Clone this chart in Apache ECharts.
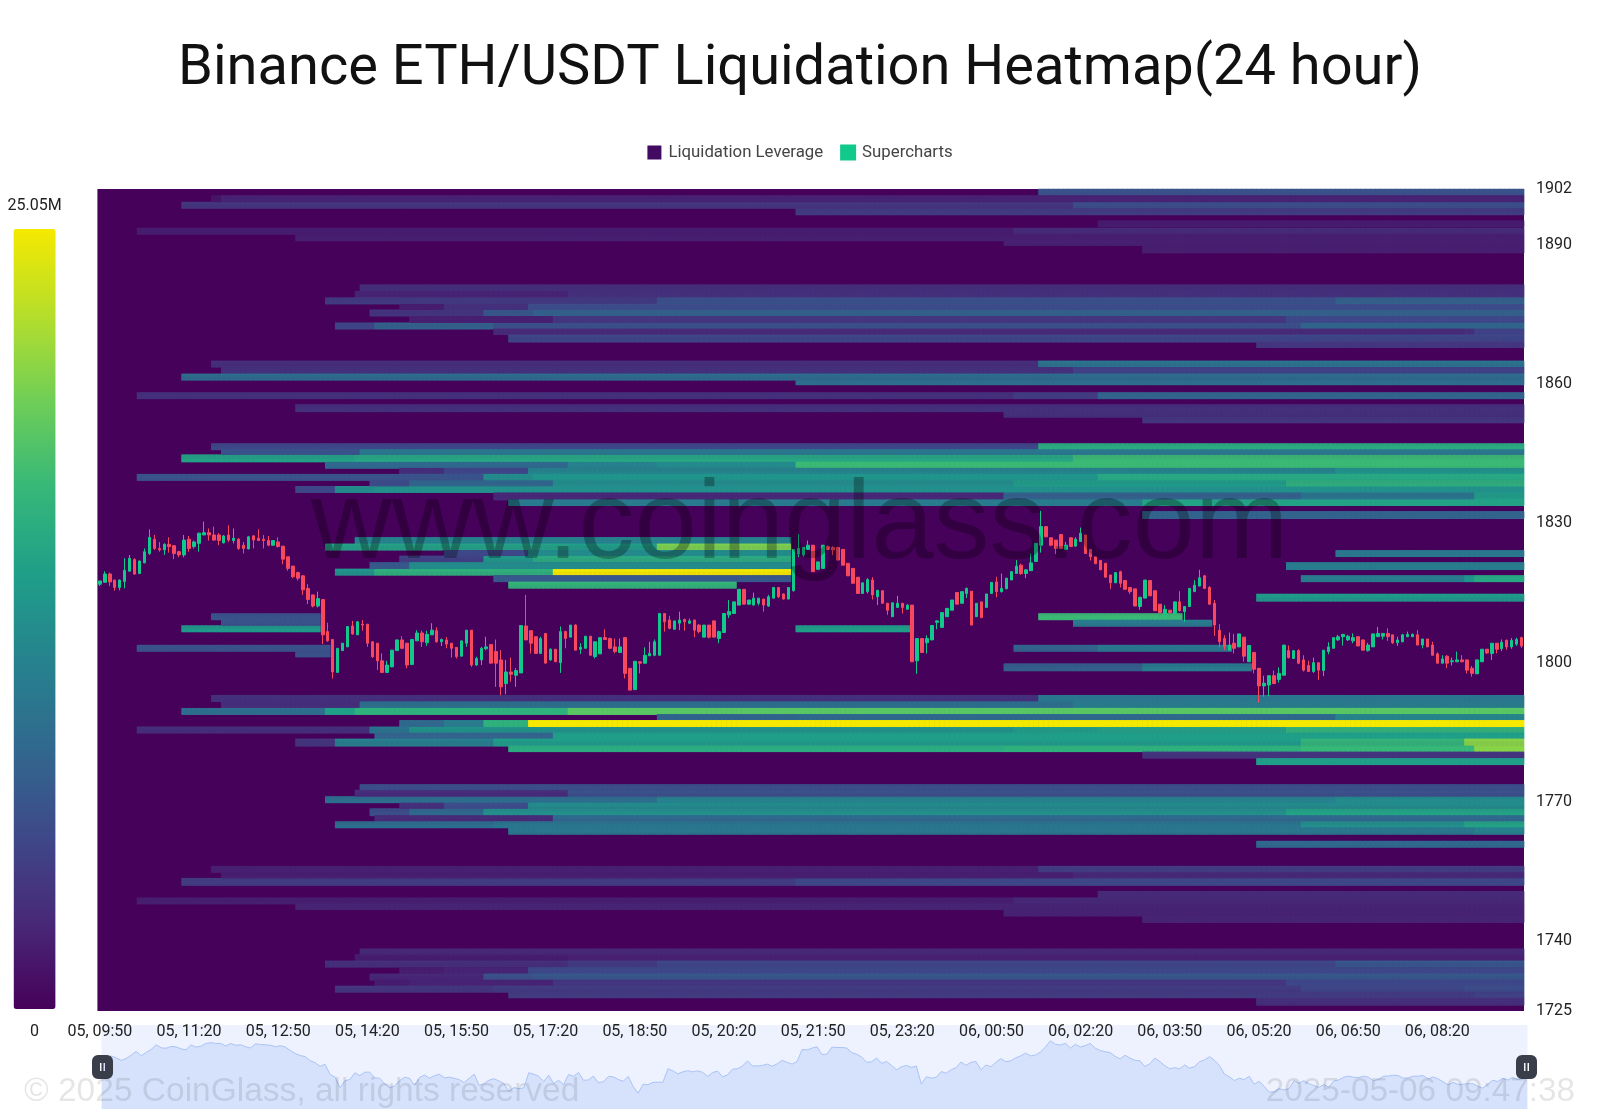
<!DOCTYPE html>
<html><head><meta charset="utf-8">
<script src="https://cdn.jsdelivr.net/npm/echarts@6/dist/echarts.min.js"></script>
<style>html,body{margin:0;padding:0;background:#fff}#c{width:1600px;height:1118px}</style></head>
<body><div id="c"></div>
<script>
const titleText = 'Binance ETH/USDT Liquidation Heatmap(24 hour)';
const legendNames = ['Liquidation Leverage', 'Supercharts'];
const priceTicks = [1725, 1740, 1770, 1800, 1830, 1860, 1890, 1902];
const priceMin = 1725, priceMax = 1902, maxLeverageM = 25.05;
const startHour = 9, startMinute = 50, barMinutes = 5, barCount = 288;

// [open, close, low, high] for each 5-minute bar
const ohlc = [
[1816.9,1817.6,1816.5,1817.6],[1817.3,1819.1,1817.3,1819.7],[1819.1,1817.4,1816.5,1819.4],[1817.8,1816.2,1815.5,1817.8],[1816.2,1817.8,1815.6,1817.9],
[1817.5,1819.9,1816,1822.5],[1819.7,1822.5,1819.7,1823.2],[1822.2,1819.1,1818.9,1822.5],[1819.2,1821.9,1819.2,1822],[1821.5,1823.9,1821.4,1824.6],
[1823.5,1827,1823.2,1828.7],[1826.6,1824.6,1824.3,1827.5],[1824.6,1824.3,1823.9,1826],[1824.3,1825.5,1823.2,1825.7],[1825.5,1825,1823.7,1827],
[1825.2,1823.5,1822.3,1825.3],[1823.9,1823.2,1822.7,1824.1],[1823.2,1826.4,1822.7,1827.5],[1826.6,1824.6,1823.9,1827.3],[1825,1826,1824.6,1826.3],
[1825.7,1827.9,1823.9,1828],[1827.5,1828,1827.5,1830.4],[1828,1827.5,1826.3,1828.9],[1827.5,1826.4,1826.3,1829.3],[1827.5,1826.3,1825.3,1827.9],
[1825.8,1827.3,1825.7,1827.5],[1827.5,1826.4,1826,1829.6],[1826.3,1826.8,1825.7,1828.9],[1826.6,1824.6,1824.3,1826.8],[1825.3,1824.6,1823.5,1826],
[1824.5,1827.1,1824.4,1827.3],[1827.3,1826.4,1824.6,1827.5],[1826.8,1826.3,1826.3,1828.7],[1826.6,1826.3,1824.6,1827.5],[1826.3,1825.3,1825.1,1827.3],
[1825.3,1826.3,1825.2,1826.4],[1826,1825,1824.8,1827],[1825.1,1822.3,1821.2,1825.1],[1822.8,1820.3,1819.8,1822.8],[1820.8,1818.5,1818.2,1820.8],
[1819.4,1818.2,1817.7,1819.6],[1818.7,1815.7,1814.6,1818.9],[1816,1813.6,1812.6,1816.9],[1814.6,1812.2,1811.9,1814.6],[1812.2,1813.8,1811.9,1815.3],
[1813.6,1806,1804,1813.6],[1806.7,1804.7,1804.5,1808.6],[1805,1798,1796.6,1805],[1797.9,1803.1,1797.9,1803.1],[1802.6,1804.2,1802.6,1804.2],
[1803.4,1807.8,1803.4,1807.8],[1807.9,1806.2,1806,1809],[1806,1808.8,1806,1809],[1808.3,1808.1,1806.9,1809.2],[1808.3,1804.2,1803.4,1808.3],
[1804.5,1801.3,1801,1804.6],[1804.2,1800.4,1798.4,1804.2],[1800.4,1797.9,1797.9,1802],[1797.9,1799.5,1797.9,1800.4],[1799.1,1802.7,1799.1,1802.7],
[1802.6,1804.9,1802.6,1805],[1804.9,1803.1,1802.9,1805.7],[1804.2,1799.5,1798.8,1804.2],[1799.6,1805,1799.6,1805],[1804.7,1806.4,1804.7,1807],
[1806.4,1804.5,1803.4,1806.9],[1804.3,1806.1,1803.6,1806.9],[1806,1807,1806,1808.5],[1806.9,1804.5,1804.3,1807.6],[1804.5,1805,1803.6,1805.2],
[1804.9,1804,1803.1,1805.5],[1804.2,1803.1,1801.1,1804.2],[1803.3,1801.3,1800.9,1803.3],[1801.4,1804.7,1801.4,1804.7],[1804.2,1807,1803.4,1807],
[1807,1799.5,1799.1,1807],[1799.5,1800.9,1799.3,1801.3],[1800.6,1803.1,1799.5,1803.4],[1803,1803.4,1802.7,1805.6],[1803.9,1799.9,1799.9,1803.9],
[1802.4,1799.9,1794.8,1805],[1800.6,1794.8,1793,1802.7],[1795.5,1798,1793.2,1800.6],[1798,1797.5,1795.9,1801.1],[1797.3,1798.3,1794.8,1798.8],
[1797.8,1808,1797.8,1808],[1807.9,1804.9,1804.9,1814.6],[1806.9,1804.2,1802,1806.9],[1805.6,1802,1801.9,1805.6],[1802,1805.2,1801.9,1805.6],
[1806.3,1799.9,1799.9,1806.3],[1800.6,1802.9,1800.4,1803.1],[1802.9,1800.2,1800.2,1802.9],[1800,1806.7,1797.8,1807.8],[1806.7,1805.2,1803.1,1806.9],
[1805.5,1808.1,1805.5,1808.1],[1808.1,1802.7,1802.7,1808.3],[1802.9,1803.3,1801.9,1804.2],[1803.1,1805.7,1803.1,1805.7],[1805.7,1801.6,1801.6,1805.7],
[1801.3,1804.5,1800.9,1804.5],[1801.9,1805.4,1801.9,1805.4],[1805.4,1805,1804.9,1807.2],[1805.2,1803.1,1802.9,1805.4],[1803.4,1802.4,1802,1805.2],
[1802.2,1803.4,1802.2,1805.2],[1805.4,1797.7,1796.6,1805.4],[1798.8,1794.1,1794.1,1798.8],[1794.2,1800.3,1794.2,1800.3],[1800.2,1799.9,1797.7,1800.2],
[1799.9,1801.6,1799.7,1803.3],[1801.5,1802,1801.4,1804.5],[1801.6,1804.5,1801.4,1805],[1801.6,1810.6,1801.6,1810.6],[1810.6,1808.8,1806.7,1810.6],
[1809.2,1807.4,1807.2,1810.1],[1807.2,1809,1807.2,1809],[1808.5,1809.2,1807,1811],[1809.3,1808.8,1806.9,1809.5],[1808.5,1809,1808.3,1809.5],
[1809.2,1807,1805.5,1809.2],[1808.1,1806.7,1806.3,1808.3],[1805.5,1808.1,1805.5,1808.1],[1808.1,1805.5,1805.2,1808.1],[1809,1805.5,1805.5,1809],
[1805.2,1806.7,1804.2,1806.9],[1806.5,1810.6,1806.5,1810.6],[1810.3,1811,1809.6,1813.5],[1810.6,1813.1,1810.6,1813.1],[1812.4,1815.8,1812.4,1815.8],
[1815.8,1812.6,1812.6,1815.8],[1812.6,1813.5,1812.4,1813.5],[1812.4,1813.9,1812.4,1815.1],[1812.8,1813.9,1812.3,1813.9],[1813.7,1812.4,1811,1813.7],
[1812.2,1814.2,1812,1814.6],[1813.9,1816.2,1813.9,1816.2],[1816.2,1814.2,1813.9,1816.2],[1814.8,1813.7,1813.6,1814.9],[1813.7,1816.2,1813.7,1816.2],
[1815.5,1824.4,1815.3,1824.4],[1823.4,1824.6,1822.7,1827.7],[1823.2,1824.8,1822.8,1824.8],[1824.4,1825.3,1824.3,1826.3],[1825.3,1819.6,1819.6,1825.3],
[1820.1,1821.7,1820.1,1821.7],[1820.3,1825.3,1820.3,1825.3],[1825,1824.4,1824.3,1825.3],[1824.8,1824.3,1823.2,1825.1],[1824.8,1822.1,1822,1825],
[1824.4,1821,1821,1824.4],[1821.4,1818.7,1818.7,1821.4],[1820.3,1817.1,1817.1,1820.3],[1818.4,1814.9,1814.9,1818.4],[1814.9,1817.2,1814.9,1817.2],
[1815.3,1817.9,1814.9,1818.2],[1817.8,1814.6,1813.6,1818.4],[1814.2,1815.6,1812.4,1815.6],[1815.5,1812.8,1812.8,1815.5],[1812.8,1811.3,1810.3,1812.8],
[1809.9,1812.9,1809.9,1812.9],[1811.9,1812.8,1811.9,1814.4],[1812.8,1811.9,1810.6,1812.8],[1811.5,1812.4,1811.5,1812.6],[1812.4,1800.2,1800.2,1812.4],
[1800.4,1805.2,1797.6,1805.2],[1805.2,1802.2,1802.2,1805.2],[1804.3,1805.2,1802,1805.9],[1804.9,1808,1804.9,1808],[1808.7,1809,1807.2,1809.2],
[1807.6,1810.8,1807.6,1810.8],[1809.9,1811.7,1809.9,1811.7],[1811.3,1813.5,1811.3,1813.5],[1815.1,1812.6,1812.6,1815.1],[1812.8,1815.3,1812.8,1815.3],
[1814.9,1816,1813.9,1816.2],[1815.4,1808.1,1808.1,1815.4],[1809.9,1812.8,1809.9,1812.8],[1813.1,1809.7,1809.7,1813.1],[1811.9,1814.8,1811.9,1814.8],
[1814.9,1817.3,1814.9,1817.3],[1817.4,1815.3,1814.1,1818.5],[1815.3,1816,1815.1,1819.2],[1815.9,1818.2,1815.9,1818.2],[1817.8,1819.6,1817.8,1819.6],
[1819.2,1820.8,1819.2,1822.1],[1821,1819.2,1818.9,1821.3],[1819.2,1820,1818.2,1820.1],[1819.8,1821.5,1819.8,1823.5],[1821.8,1825.7,1821.8,1825.7],
[1825.3,1829.3,1823.7,1832.7],[1829.3,1827.1,1827.1,1829.3],[1826.9,1825.3,1825.1,1826.9],[1826.4,1824.6,1823.4,1826.4],[1827.6,1824.6,1824.6,1827.6],
[1824.4,1825.3,1824.3,1826],[1826.9,1825,1825,1826.9],[1825.1,1826.6,1825,1827],[1826.1,1827.9,1826.1,1829.1],[1827.5,1823.5,1823.5,1827.5],
[1824.4,1822.8,1822,1824.4],[1822.8,1821.3,1821.3,1822.8],[1822,1820,1820,1822],[1821.4,1818.4,1818.4,1821.4],[1818.9,1817.2,1815.9,1818.9],
[1817.2,1819.4,1817.2,1819.4],[1819.6,1817.1,1816.2,1819.8],[1817.7,1815.8,1815.8,1817.7],[1816.2,1815.3,1814.8,1816.2],[1815.9,1812.2,1812.2,1815.9],
[1812.1,1814.1,1811.4,1814.1],[1813.9,1817.8,1813.9,1817.8],[1817.7,1814.4,1814.4,1817.7],[1815.5,1811.2,1811.2,1815.5],[1812.6,1810.8,1809.8,1812.6],
[1810.6,1811.5,1809.8,1812.4],[1811.3,1810.8,1809.8,1811.3],[1810.6,1813.1,1810.6,1813.1],[1813.1,1811.2,1811,1815.4],[1811,1812.1,1808.8,1812.2],
[1812.1,1816,1812.1,1816],[1815.3,1816.7,1815.3,1817.8],[1816.5,1818.3,1816.5,1820],[1818.7,1816,1815.9,1818.9],[1816.2,1812.6,1812.4,1816.5],
[1812.8,1808.1,1805.8,1813.5],[1807,1804.5,1803.3,1808.3],[1805.2,1803.4,1802.7,1805.9],[1802.7,1803.8,1802.7,1806.5],[1804.2,1803.1,1802,1806.2],
[1803.4,1806.2,1803.4,1806.2],[1805.5,1801.4,1800.2,1805.5],[1800.2,1803.7,1800.2,1803.7],[1802.2,1798.6,1797.7,1802.2],[1798.8,1795,1791.4,1798.8],
[1795,1795.6,1792.7,1797.2],[1795.2,1797.2,1792.8,1797.2],[1797.2,1795.5,1795.5,1798.3],[1796.4,1797.7,1795.7,1799],[1797.3,1803.8,1797.3,1803.8],
[1802.6,1801.1,1800.9,1803.7],[1800.9,1802.6,1800.9,1802.6],[1802.6,1799.9,1799.7,1802.9],[1800.6,1798.4,1798.1,1801.6],[1799.4,1798.1,1798.1,1800.4],
[1798.1,1800,1797.8,1801.1],[1800,1798.4,1796.3,1800],[1798.3,1802.7,1797.1,1802.7],[1802.4,1803.4,1801.8,1804.4],[1803.1,1805.4,1803.1,1805.4],
[1804.9,1805.6,1804.7,1806],[1805.6,1806.1,1803.7,1806.1],[1804.9,1805.7,1804.7,1806],[1804.7,1805.4,1804.2,1806.3],[1805.6,1803.6,1803.6,1805.6],
[1804.9,1802.7,1802.6,1805],[1802.6,1803.8,1802.4,1804.3],[1803.4,1806.2,1803.4,1806.2],[1805.6,1806.3,1805.6,1807.7],[1805.7,1806.3,1805,1806.3],
[1806.3,1805.6,1804.7,1807.4],[1806,1804.3,1804,1806],[1804.3,1804.9,1803.6,1805.6],[1804.5,1806,1804.5,1806.2],[1805.6,1806.1,1805.5,1806.7],
[1805.6,1806.1,1805.5,1806.3],[1806,1803.8,1803.8,1807],[1803.8,1805.1,1803.1,1805.1],[1805.1,1803.4,1803.4,1805.1],[1803.8,1801.6,1801.6,1804.5],
[1801.9,1799.9,1799.9,1802.2],[1799.9,1800.8,1799.9,1801.6],[1801.4,1799.9,1798.8,1801.6],[1800.2,1800.4,1799.4,1801.1],[1800.2,1800.6,1800.1,1802.4],
[1800.6,1800.2,1800.1,1801.6],[1800.6,1798.4,1797.7,1800.6],[1798.8,1797.7,1797,1799.3],[1797.6,1800.6,1797.6,1800.6],[1800.2,1802.9,1800.2,1802.9],
[1802.9,1802.1,1801.9,1802.9],[1802,1804.2,1800.6,1804.2],[1804.2,1802.9,1802,1804.2],[1803,1804.4,1802.5,1805],[1804.8,1803.4,1802.8,1805],
[1803.4,1804.8,1803,1805.3],[1804,1805,1803.6,1805.4],[1805.4,1803.6,1803.2,1805.6]
];

// Liquidation rows: [price, [firstBar, leverageM], [firstBar, leverageM], ...]; 0 ends a band
const liquidationRows = [
[1901.2,[190,6.5]],[1899.8,[23,1.5],[25,2.5]],[1898.4,[17,4],[197,6]],[1897.1,[141,4.5]],[1894.4,[202,2]],
[1892.9,[8,2],[185,3]],[1891.6,[40,2.2]],[1890.4,[183,2.2]],[1889.0,[211,2.2]],

[1880.7,[53,3.5]],[1879.3,[52,2.5],[95,3.5]],[1877.9,[46,4.5],[113,6.5],[250,8]],[1876.6,[61,2],[70,3.5],[87,5.8]],
[1875.2,[55,4],[78,7],[88,8]],[1873.8,[63,2.2],[92,4],[240,5.5]],[1872.5,[48,5.5],[56,8],[80,6.5],[243,8.5]],
[1871.2,[80,3],[276,3.5],[278,5]],[1869.8,[83,5.5]],[1868.5,[234,4]],

[1864.3,[23,3.5],[190,9.8]],[1862.9,[25,3.5],[197,5]],[1861.6,[17,9]],[1860.4,[141,9]],
[1857.5,[8,3.5],[185,4.5],[202,8]],[1854.8,[40,3.5]],[1853.5,[183,3.5]],[1852.2,[211,4]],

[1846.6,[23,5.5],[190,15.5]],[1845.3,[25,6.5],[53,10]],[1844.0,[17,14.5],[52,15],[197,17]],
[1842.6,[46,8.5],[95,11],[113,12],[141,17]],[1841.3,[61,3.5],[70,5.5],[87,11.5],[250,13]],
[1839.9,[8,6.5],[78,12],[88,13],[202,15]],[1838.5,[55,6],[63,8.5],[92,12.5],[185,14],[240,16]],
[1837.2,[40,5.5],[48,12],[56,12.5]],[1835.8,[80,3],[183,8],[243,10],[278,14]],[1834.4,[83,10.5],[211,14.5]],[1831.8,[211,8]],

[1826.3,[52,11],[140,0]],[1824.9,[46,14.5],[95,14],[113,20],[140,0]],[1823.6,[70,5.5],[87,12],[140,0],[250,10]],
[1822.2,[61,5],[78,13.5],[88,15.5],[140,0]],[1820.8,[55,7],[63,12],[140,0],[240,10.5]],
[1819.4,[48,13],[56,16],[92,25.05],[140,0]],[1818.1,[80,7],[140,0],[243,10.5],[276,13],[278,15]],[1816.7,[83,16.5],[129,0]],
[1814.0,[234,13.5]],

[1809.9,[23,6.5],[45,0],[190,17],[219,0]],[1808.5,[25,6.5],[45,0],[197,10.5],[225,0]],[1807.2,[17,13.5],[45,0],[141,14],[164,0]],
[1803.1,[8,6.5],[47,0],[185,8],[202,10],[229,0]],[1801.9,[40,6.5],[47,0]],[1799.0,[183,7.5],[211,10.5],[233,0]],

[1792.2,[23,3.5],[190,9.8]],[1790.9,[25,3.5],[53,9.5],[197,11]],[1789.5,[17,9],[46,14],[52,16],[95,18.5]],
[1788.2,[113,8.5],[141,9],[250,12]],[1786.8,[61,8.5],[70,10.5],[78,16],[87,25.05]],
[1785.5,[8,3.5],[55,10],[63,13],[185,14],[202,14.5],[240,16.5]],[1784.2,[56,8],[92,14]],
[1782.8,[40,4],[48,11],[80,14],[243,16.5],[276,20.5]],[1781.5,[83,15.5],[183,16],[243,16.8],[278,20.5]],
[1780.1,[211,4]],[1778.7,[234,14]],

[1773.1,[53,6]],[1771.8,[52,3.2],[95,6.3]],[1770.5,[46,9],[113,11],[250,12]],[1769.1,[61,3.5],[70,6],[87,12]],
[1767.8,[55,6],[63,8.5],[78,12.5],[240,14.5]],[1766.5,[56,3],[92,8.5]],[1765.1,[48,9],[80,10],[243,12.5],[276,14.5]],
[1763.8,[83,10],[278,11]],[1760.9,[234,8.5]],

[1755.4,[23,2.2],[190,4.5]],[1754.0,[25,2.2],[197,3]],[1752.8,[17,4.5],[141,5.5]],[1750.0,[202,3]],
[1748.7,[8,2.2],[185,3]],[1747.4,[40,2.5]],[1746.1,[183,2.5]],[1744.7,[211,2.5]],

[1737.7,[53,3]],[1736.4,[52,2],[95,2.3]],[1735.1,[46,3.5],[95,4.5],[113,5.5],[250,7]],[1733.7,[61,2],[70,2.5],[87,5.5]],
[1732.3,[55,2.8],[78,6.5],[88,7]],[1731.1,[56,2],[63,2.5],[92,4],[240,5.5]],[1729.7,[48,4],[80,4.5],[243,5.5],[276,6]],
[1728.4,[83,4.5],[278,5]],[1727.0,[234,3.5]]
];

const binSize = 0.2, rowHalf = 0.7;
const timeLabels = [];
for (let i = 0; i < barCount; i++) {
  const t = startHour * 60 + startMinute + i * barMinutes;
  const day = t >= 1440 ? '06' : '05';
  const m = t % 1440;
  timeLabels.push(day + ', ' + String(Math.floor(m / 60)).padStart(2, '0') + ':' + String(m % 60).padStart(2, '0'));
}
const priceBins = [];
const binCount = Math.round((priceMax - priceMin) / binSize);
for (let i = 0; i < binCount; i++) priceBins.push((priceMin + i * binSize).toFixed(2));

const cells = new Map();
liquidationRows.forEach(row => {
  const price = row[0], steps = row.slice(1);
  const b0 = Math.round((price - rowHalf - priceMin) / binSize);
  const b1 = Math.round((price + rowHalf - priceMin) / binSize);
  steps.forEach((s, k) => {
    if (!s[1]) return;
    const end = k + 1 < steps.length ? steps[k + 1][0] : barCount;
    for (let x = s[0]; x < end; x++)
      for (let y = b0; y < b1; y++) cells.set(x * 1000 + y, [x, y, s[1]]);
  });
});
const heatCells = Array.from(cells.values());

const font = 'Roboto';
const chart = echarts.init(document.getElementById('c'), null, {renderer: 'canvas'});
chart.setOption({
  animation: false,
  backgroundColor: '#fff',
  title: {text: titleText, left: 'center', top: 37, textStyle: {fontFamily: font, fontSize: 56, fontWeight: 400, color: '#111'}},
  legend: {data: [{name: legendNames[0], itemStyle: {color: '#420a60'}}, {name: legendNames[1], itemStyle: {color: '#10c98a'}}],
    top: 139, left: 'center', icon: 'rect', itemWidth: 14, itemHeight: 14, itemGap: 17,
    textStyle: {fontFamily: font, fontSize: 16.8, color: '#444', padding: [0, 0, 0, 2]}},
  grid: {left: 97.4, right: 76, top: 189, bottom: 107, show: true, backgroundColor: '#46015a', borderWidth: 0},
  xAxis: {type: 'category', data: timeLabels, boundaryGap: true, z: 8, axisLine: {show: false}, axisTick: {show: false}, splitLine: {show: false},
    axisLabel: {interval: 17, margin: 13, fontFamily: font, fontSize: 16, color: '#222', hideOverlap: false}},
  yAxis: [
    {type: 'category', data: priceBins, show: false},
    {type: 'value', min: priceMin, max: priceMax, position: 'right', scale: true, splitLine: {show: false}, axisLine: {show: false}, axisTick: {show: false},
      axisLabel: {customValues: priceTicks, formatter: v => String(v), margin: 12, padding: [4, 0, 0, 0], fontFamily: font, fontSize: 16, color: '#222'}}
  ],
  visualMap: {type: 'continuous', seriesIndex: 0, min: 0, max: maxLeverageM, calculable: false, realtime: false, left: -7.5, top: 183,
    itemWidth: 42, itemHeight: 780, text: ['25.05M', '0'], textGap: 15, textStyle: {fontFamily: font, fontSize: 16, color: '#222'},
    inRange: {color: ['#46015a', '#482878', '#3e4989', '#31688e', '#26828e', '#1f9e89', '#35b779', '#6ece58', '#b5de2b', '#f5e900']}},
  dataZoom: [{type: 'slider', xAxisIndex: 0, start: 0, end: 100, left: 99, right: 75, top: 1025, height: 84, z: 4,
    showDetail: false, borderColor: 'transparent', backgroundColor: '#eef2fe', fillerColor: 'rgba(0,0,0,0)', filterMode: 'none',
    moveHandleSize: 0, brushSelect: false, handleSize: 24,
    handleIcon: 'path://M6,0 H15 A6,6 0 0 1 21,6 V18 A6,6 0 0 1 15,24 H6 A6,6 0 0 1 0,18 V6 A6,6 0 0 1 6,0 Z M8,8 V16 H9.5 V8 Z M11.5,8 V16 H13 V8 Z',
    handleStyle: {color: '#3a3d4a', borderColor: '#3a3d4a', borderWidth: 0},
    dataBackground: {lineStyle: {color: '#a9c3f5', width: 1, opacity: 1}, areaStyle: {color: '#d6e1fb', opacity: 1}},
    selectedDataBackground: {lineStyle: {color: '#a9c3f5', width: 1, opacity: 1}, areaStyle: {color: '#d6e1fb', opacity: 1}}}],
  graphic: [
    {type: 'text', z: 100, left: 311, top: 471, silent: true, style: {text: 'www.coinglass.com', fontFamily: 'Liberation Sans', fontSize: 112, fill: 'rgba(0,0,0,0.28)'}},
    {type: 'text', z: 100, left: 24, top: 1075, silent: true, style: {text: '\u00a9 2025 CoinGlass, all rights reserved', fontFamily: 'Liberation Sans', fontSize: 33.5, fill: 'rgba(0,0,0,0.1)'}},
    {type: 'text', z: 100, right: 25, top: 1075, silent: true, style: {text: '2025-05-06 09:47:38', fontFamily: 'Liberation Sans', fontSize: 33.3, fill: 'rgba(0,0,0,0.1)'}}
  ],
  series: [
    {name: legendNames[0], type: 'heatmap', data: heatCells, xAxisIndex: 0, yAxisIndex: 0, progressive: 0, silent: true, z: 1, itemStyle: {color: '#420a60'}},
    {name: legendNames[1], type: 'candlestick', data: ohlc, xAxisIndex: 0, yAxisIndex: 1, barWidth: 3, z: 3,
      itemStyle: {color: '#10c98a', color0: '#f8485e', borderColor: '#10c98a', borderColor0: '#f8485e', borderWidth: 1}}
  ]
});
</script></body></html>
